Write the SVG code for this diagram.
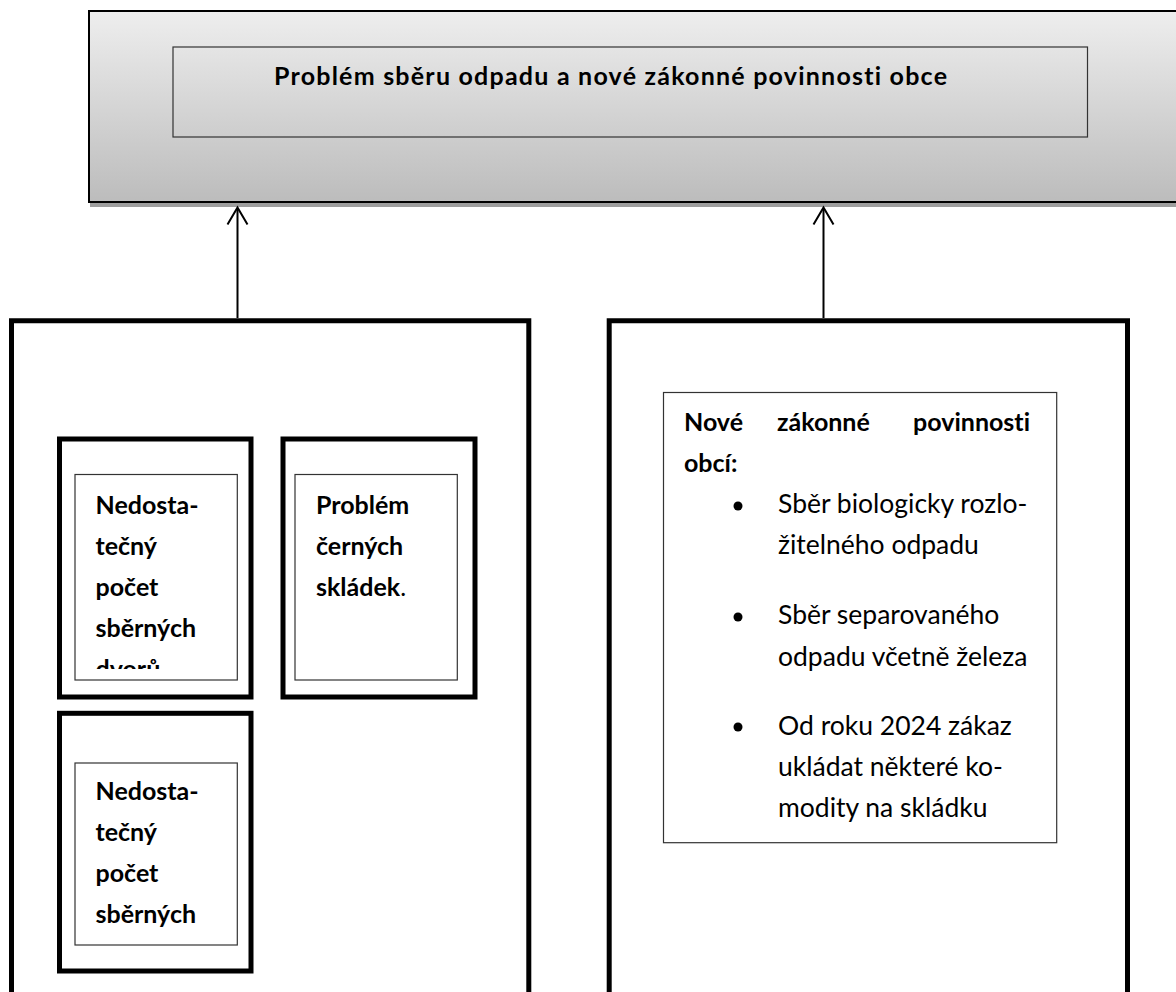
<svg xmlns="http://www.w3.org/2000/svg" width="1176" height="992" viewBox="0 0 1176 992">
<style>
.t{font-family:Lato,"Open Sans","DejaVu Sans",sans-serif;font-size:26.5px;fill:#000;font-variant-ligatures:none}
.b{font-weight:bold;font-size:25px}
.thick{fill:none;stroke:#000;stroke-width:5}
.thin{fill:none;stroke:#333;stroke-width:1.2}
.conn{fill:none;stroke:#000;stroke-width:2}
</style>
<defs>
<linearGradient id="g" x1="0" y1="0" x2="0" y2="1">
<stop offset="0" stop-color="#eeeeee"/>
<stop offset="1" stop-color="#bcbcbc"/>
</linearGradient>
<clipPath id="c1"><rect x="76" y="475" width="160" height="194"/></clipPath>
</defs>
<rect width="1176" height="992" fill="#fff"/>
<g id="top">
<rect x="90" y="15" width="1100" height="192" fill="#9e9e9e"/>
<rect x="89" y="11" width="1100" height="191" fill="url(#g)" stroke="#000" stroke-width="2"/>
<rect x="173" y="47" width="914.5" height="90" class="thin"/>
<text class="t b" x="274" y="85" font-size="25.5" textLength="673" lengthAdjust="spacing">Problém sběru odpadu a nové zákonné povinnosti obce</text>
</g>
<g id="connectors">
<line x1="237.5" y1="318" x2="237.5" y2="208" class="conn"/>
<polyline points="227.5,224.5 237.5,207.5 247.5,224.5" class="conn"/>
<line x1="823.5" y1="318" x2="823.5" y2="208" class="conn"/>
<polyline points="813.5,224.5 823.5,207.5 833.5,224.5" class="conn"/>
</g>
<g id="left-panel">
<path d="M11.5,1000 V320.8 H528.8 V1000" class="thick"/>
</g>
<g id="box-dvory">
<rect x="59.5" y="439" width="191.5" height="258" class="thick"/>
<rect x="75" y="474.5" width="162.3" height="205.5" class="thin"/>
<g clip-path="url(#c1)">
<text class="t b" x="95.5" y="514">Nedosta-</text>
<text class="t b" x="95.5" y="555">tečný</text>
<text class="t b" x="95.5" y="596">počet</text>
<text class="t b" x="95.5" y="637">sběrných</text>
<text class="t b" x="95.5" y="678">dvorů</text>
</g>
</g>
<g id="box-skladky">
<rect x="283" y="439" width="192" height="258" class="thick"/>
<rect x="295" y="474.5" width="162.3" height="205.5" class="thin"/>
<text class="t b" x="316" y="514">Problém</text>
<text class="t b" x="316" y="555">černých</text>
<text class="t b" x="316" y="596">skládek<tspan font-weight="normal">.</tspan></text>
</g>
<g id="box-dvory-2">
<rect x="59.5" y="713.3" width="191.5" height="257.7" class="thick"/>
<rect x="75" y="763" width="162.3" height="182" class="thin"/>
<text class="t b" x="95.5" y="800">Nedosta-</text>
<text class="t b" x="95.5" y="841">tečný</text>
<text class="t b" x="95.5" y="882">počet</text>
<text class="t b" x="95.5" y="923">sběrných</text>
</g>
<g id="right-panel">
<path d="M609.2,1000 V320.8 H1127.5 V1000" class="thick"/>
</g>
<g id="povinnosti">
<rect x="663.5" y="392.5" width="393.2" height="450.2" class="thin"/>
<text class="t b" x="684" y="431">Nové</text>
<text class="t b" x="777" y="431">zákonné</text>
<text class="t b" x="1030" y="431" text-anchor="end">povinnosti</text>
<text class="t b" x="684" y="472">obcí:</text>
<circle cx="738" cy="506" r="4.5"/>
<text class="t" x="778" y="513">Sběr biologicky rozlo-</text>
<text class="t" x="778" y="554">žitelného odpadu</text>
<circle cx="738" cy="617" r="4.5"/>
<text class="t" x="778" y="624">Sběr separovaného</text>
<text class="t" x="778" y="666">odpadu včetně železa</text>
<circle cx="738" cy="727" r="4.5"/>
<text class="t" x="778" y="735">Od roku 2024 zákaz</text>
<text class="t" x="778" y="776">ukládat některé ko-</text>
<text class="t" x="778" y="817">modity na skládku</text>
</g>
</svg>
